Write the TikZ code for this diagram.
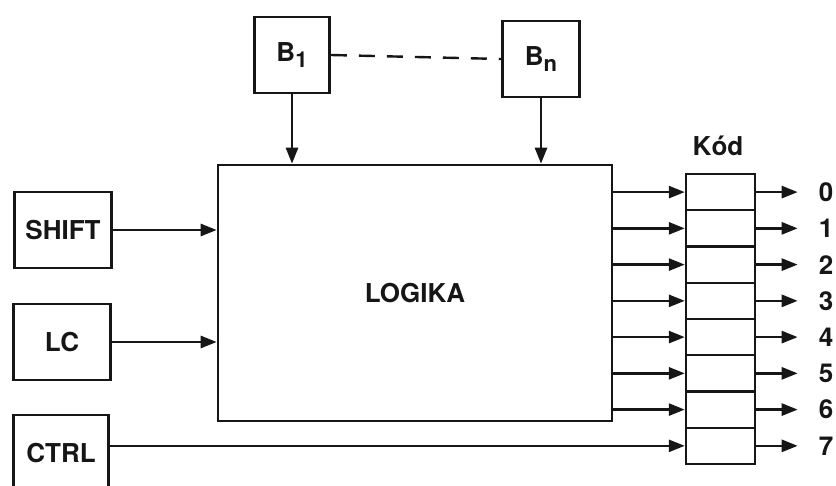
\documentclass[tikz,border=0pt]{standalone}
\usepackage{fontspec}
\setsansfont{TeX Gyre Heros}
\usetikzlibrary{arrows.meta,positioning,calc}
\definecolor{scanInk}{HTML}{161616}
\newcommand{\lowidx}[1]{\raisebox{-0.45ex}{\fontsize{11}{12}\selectfont #1}}

\begin{document}
\begin{tikzpicture}[x=0.5pt,y=-0.5pt,
    font=\sffamily\bfseries\fontsize{13}{15}\selectfont,
    every node/.style={text=scanInk},
    blockbox/.style={draw=scanInk,line width=1.3pt,minimum width=48.5pt,minimum height=38pt,inner sep=0pt},
    cellbox/.style={draw=scanInk,line width=1.2pt,minimum width=34.5pt,minimum height=18.125pt,inner sep=0pt},
    sig/.style={draw=scanInk,line width=1.3pt,-{Triangle[length=8pt,width=6pt]}}]
    \path[use as bounding box,clip] (0,0) rectangle (836,486);

    % inputs
    \node[blockbox] (shift) at (63,230) {SHIFT};
    \node[blockbox] (lc)    at (62,342) {LC};
    \node[blockbox,minimum width=47.5pt] (ctrl) at (61,453) {CTRL};
    \node[blockbox,minimum width=37.5pt] (b1) at (292,55) {B\lowidx{1}};
    \node[blockbox,minimum width=38.5pt] (bn) at (541,59) {B\lowidx{n}};

    % logic block
    \node[blockbox,minimum width=197pt,minimum height=128pt] (logika) at (415,293) {LOGIKA};

    % code register
    \node (kod) at (718,146) {Kód};
    \foreach \i in {0,...,7}{
      \node[cellbox] (c\i) at (720.5,{192.1+36.25*\i}) {};
      \node (o\i) at (826,{192.1+36.25*\i}) {\i};
      \draw[sig,shorten >=7pt] (c\i.east) -- (o\i.west);
    }
    \foreach \i in {0,...,6}
      \draw[sig] (logika.east |- c\i.west) -- (c\i.west);

    % connectors
    \draw[scanInk,line width=1.2pt,dash pattern=on 8pt off 6pt] (b1.east) -- (bn.west);
    \draw[sig] (b1.south) -- (b1.south |- logika.north);
    \draw[sig] (bn.south) -- (bn.south |- logika.north);
    \draw[sig] (shift.east) -- (shift.east -| logika.west);
    \draw[sig] (lc.east) -- (lc.east -| logika.west);
    \draw[sig] (ctrl.east |- c7.west) -- (c7.west);
\end{tikzpicture}
\end{document}
